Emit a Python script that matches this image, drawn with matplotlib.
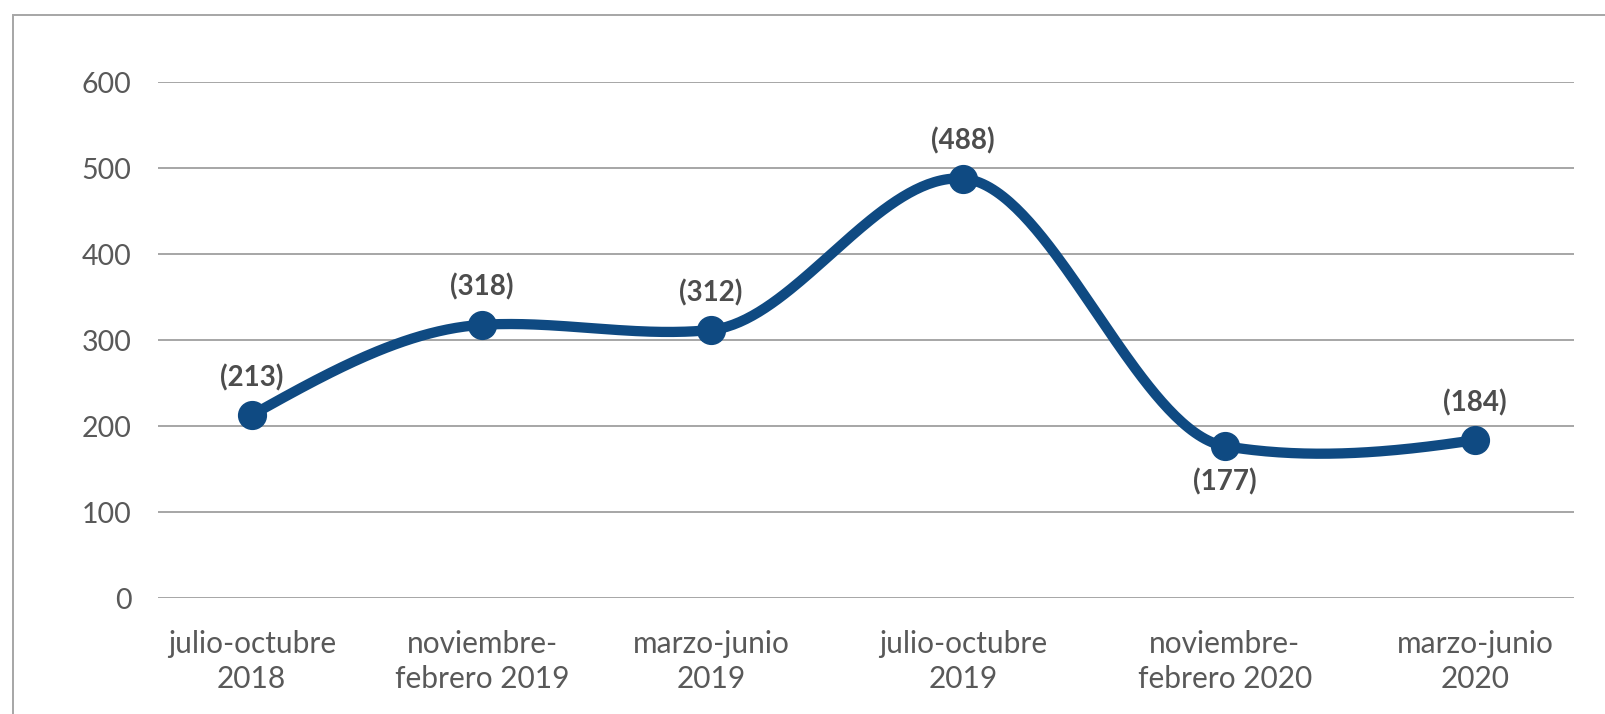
#!/usr/bin/env python3
import numpy as np
import matplotlib
matplotlib.use('Agg')
import matplotlib.pyplot as plt
from matplotlib.patches import Rectangle

# datos
periods = ['julio-octubre\n2018', 'noviembre-\nfebrero 2019', 'marzo-junio\n2019',
           'julio-octubre\n2019', 'noviembre-\nfebrero 2020', 'marzo-junio\n2020']
x_vals = [0.0, 0.942, 1.877, 2.908, 3.978, 5.0]
values = [213, 318, 312, 488, 177, 184]
labels = ['(213)', '(318)', '(312)', '(488)', '(177)', '(184)']
label_below = [False, False, False, False, True, False]
y_ticks = [0, 100, 200, 300, 400, 500, 600]

LINE = '#0f4a82'
GRID = '#a6a6a6'
TXT = '#595959'


def smooth(px, py, k=0.33, n=80):
    # Hermite cubico con pendientes Catmull-Rom amortiguadas
    x = np.asarray(px, float)
    y = np.asarray(py, float)
    m = np.zeros_like(y)
    m[1:-1] = k * (y[2:] - y[:-2]) / (x[2:] - x[:-2])
    s0 = (y[1] - y[0]) / (x[1] - x[0])
    s1 = (y[-1] - y[-2]) / (x[-1] - x[-2])
    m[0] = (3 * s0 - m[1]) / 2
    m[-1] = (2.5 * s1 - m[-2]) / 1.5
    xs, ys = [], []
    t = np.linspace(0, 1, n)
    for i in range(len(x) - 1):
        h = x[i + 1] - x[i]
        h00 = 2 * t ** 3 - 3 * t ** 2 + 1
        h10 = t ** 3 - 2 * t ** 2 + t
        h01 = -2 * t ** 3 + 3 * t ** 2
        h11 = t ** 3 - t ** 2
        seg = h00 * y[i] + h10 * h * m[i] + h01 * y[i + 1] + h11 * h * m[i + 1]
        xs.append(x[i] + t * h)
        ys.append(seg)
    return np.concatenate(xs), np.concatenate(ys)


fig = plt.figure(figsize=(16.06, 7.14), dpi=100)
ax = fig.add_axes([158 / 1606, 1 - 598.3 / 714, (1574 - 158) / 1606, (598.3 - 82.3) / 714])

ax.set_xlim(-0.383, 5.405)
ax.set_ylim(0, 600)

cx, cy = smooth(x_vals, values)
ax.plot(cx, cy, color=LINE, lw=7.4, solid_capstyle='round', zorder=3, clip_on=False)
ax.plot(x_vals, values, 'o', color=LINE, markersize=20, zorder=4, clip_on=False)

for x, v, lab, below in zip(x_vals, values, labels, label_below):
    ax.annotate(lab, (x, v), xytext=(0, -26 if below else 27), textcoords='offset points',
                ha='center', va='center', fontsize=20, fontweight='bold',
                family='Lato', color='#4d4d4d')

ax.set_yticks(y_ticks)
ax.set_yticklabels([str(t) for t in y_ticks], family='Lato', fontsize=20.5, color=TXT)
ax.set_xticks(x_vals)
ax.set_xticklabels(periods, family='Lato', fontsize=21.5, color=TXT, linespacing=1.3)
ax.tick_params(axis='y', length=0, pad=19)
ax.tick_params(axis='x', length=0, pad=23)

ax.grid(axis='y', color=GRID, lw=1.4)
ax.set_axisbelow(True)
for s in ax.spines.values():
    s.set_visible(False)

# marco exterior
fig.patches.append(Rectangle((13 / 1606, -0.1), 1.2, 1.1 - 15 / 714, transform=fig.transFigure,
                             fill=False, edgecolor=GRID, lw=1.4))

fig.savefig('out.png', dpi=100)
